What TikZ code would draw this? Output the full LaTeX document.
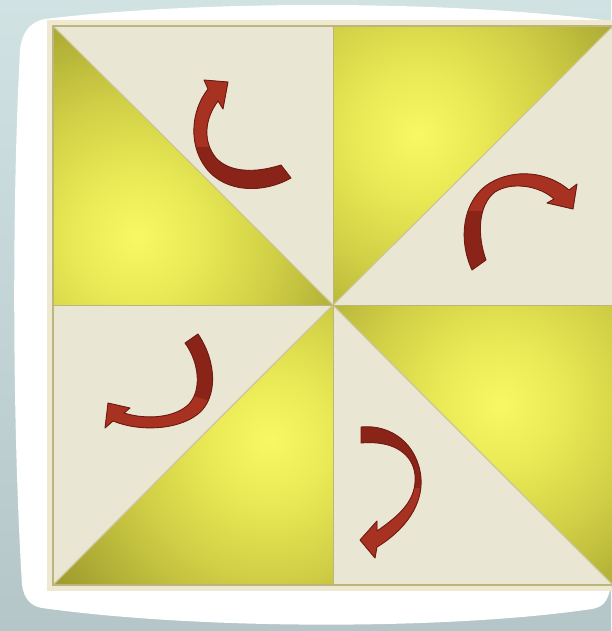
\documentclass[tikz,border=0pt]{standalone}
\definecolor{bgtop}{HTML}{D0E2E2}
\definecolor{bgbot}{HTML}{B4C6C8}
\definecolor{framecream}{HTML}{EFE9D2}
\definecolor{frameline}{HTML}{BDB57E}
\definecolor{cream}{HTML}{EAE6D4}
\definecolor{ycenter}{HTML}{F8F864}
\definecolor{yinner}{HTML}{EAEA56}
\definecolor{ymid}{HTML}{D0CE45}
\definecolor{yedge}{HTML}{A09E2E}
\definecolor{arrowlight}{HTML}{A83222}
\definecolor{arrowdark}{HTML}{8A2419}
\definecolor{arrowline}{HTML}{6E1A12}
\definecolor{diagline}{HTML}{CBC694}
\pgfdeclareradialshading{yshade}{\pgfpoint{0bp}{0bp}}{%
  color(0bp)=(ycenter); color(6bp)=(yinner); color(14bp)=(ymid);
  color(25bp)=(yedge); color(50bp)=(yedge)}
\tikzset{
  arrowoutline/.style={draw=arrowline, line width=0.9pt, line join=round},
  divider/.style={draw=frameline, line width=0.8pt},
  diag/.style={draw=diagline, line width=1.1pt}
}
\newcommand{\yellowtri}[3]{%
  \begin{scope}
    \clip #1;
    \fill[yedge] #1;
    \shade[shading=yshade] (#2,#3) circle (250);
  \end{scope}}
% #1 = arrow path, #2 = region of the lighter (front) part
\newcommand{\twistarrow}[2]{%
  \fill[arrowdark] #1;
  \begin{scope}
    \clip #2;
    \fill[arrowlight] #1;
  \end{scope}
  \draw[arrowoutline] #1;}
\begin{document}
\begin{tikzpicture}[x=1pt,y=-1pt]
\useasboundingbox (0,0) rectangle (611,631);
% background
\shade[top color=bgtop,bottom color=bgbot] (0,0) rectangle (611,631);
% white panel
\fill[white] (45,19) .. controls (200,0) and (450,0) .. (611,21) -- (611,585)
  .. controls (608,603) and (602,607) .. (592,609)
  .. controls (450,630) and (200,630) .. (42,608)
  .. controls (30,606) and (24,598) .. (22,585)
  .. controls (12,420) and (12,200) .. (20,50)
  .. controls (22,32) and (30,22) .. (45,19) -- cycle;
% frame
\fill[framecream] (47,20) rectangle (616,591);
% coordinates
\coordinate (TL) at (53,26);
\coordinate (TM) at (333,26);
\coordinate (TR) at (613,26);
\coordinate (ML) at (53,305);
\coordinate (C)  at (333,305);
\coordinate (MR) at (613,305);
\coordinate (BL) at (53,585);
\coordinate (BM) at (333,585);
\coordinate (BR) at (613,585);
% cream base
\fill[cream] (TL) rectangle (BR);
% yellow triangles
\yellowtri{(TL) -- (ML) -- (C) -- cycle}{137}{237}
\yellowtri{(TM) -- (TR) -- (C) -- cycle}{418}{135}
\yellowtri{(C) -- (BM) -- (BL) -- cycle}{270}{440}
\yellowtri{(C) -- (MR) -- (BR) -- cycle}{500}{405}
% diagonals
\draw[diag] (TL) -- (C) -- (TR);
\draw[diag] (BL) -- (C) -- (BR);
% dividers
\draw[divider] (TM) -- (BM);
\draw[divider] (ML) -- (MR);
\draw[frameline, line width=1.6pt] (TL) rectangle (BR);
% arrows
\twistarrow{(291,178) .. controls (265,193) and (226,194) .. (206,168)
  .. controls (189,146) and (190,112) .. (208,89) -- (204,80) -- (228,82) -- (223,109) -- (218,101)
  .. controls (204,120) and (203,142) .. (216,158)
  .. controls (230,173) and (256,173) .. (281,165) -- cycle}
  {(180,70) rectangle (240,147)}
\twistarrow{(472,270) .. controls (458,240) and (462,200) .. (490,183)
  .. controls (515,168) and (548,172) .. (569,190) -- (577,184) -- (573,209) -- (547,203) -- (554,199)
  .. controls (540,186) and (512,181) .. (495,192)
  .. controls (478,205) and (477,235) .. (486,260) -- cycle}
  {(450,160) rectangle (590,210)}
\twistarrow{(198,334) .. controls (217,362) and (218,398) .. (198,414)
  .. controls (178,430) and (140,432) .. (113,421) -- (105,428) -- (108,403) -- (130,408) -- (124,413)
  .. controls (146,420) and (175,418) .. (189,404)
  .. controls (202,390) and (199,362) .. (185,343) -- cycle}
  {(95,395) -- (190,395) -- (222,405) -- (222,445) -- (95,445) -- cycle}
\twistarrow{(361,427) .. controls (392,424) and (418,445) .. (421,478)
  .. controls (423,505) and (405,530) .. (377,547) -- (375,558) -- (360,540) -- (377,521) -- (377,531)
  .. controls (400,515) and (417,500) .. (415,475)
  .. controls (413,455) and (395,440) .. (361,443) -- cycle}
  {(350,488) rectangle (430,565)}
\end{tikzpicture}
\end{document}
